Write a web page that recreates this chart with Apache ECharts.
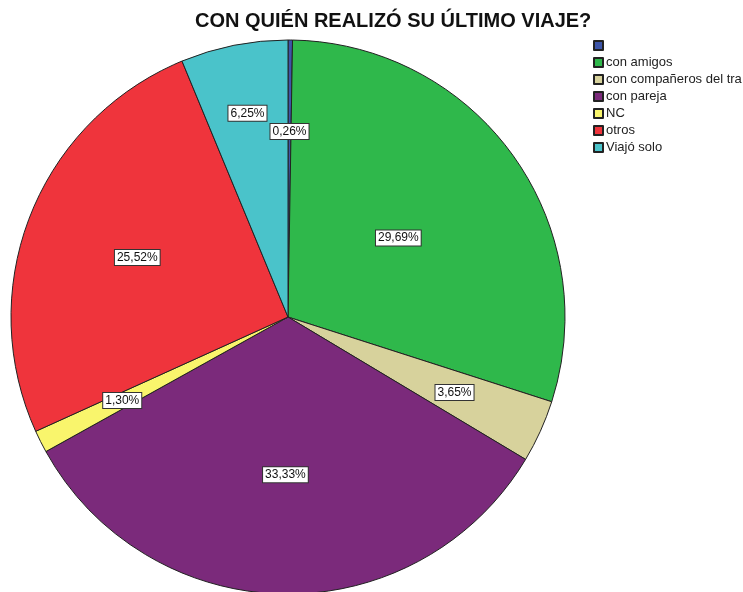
<!DOCTYPE html>
<html>
<head>
<meta charset="utf-8">
<script src="https://cdn.jsdelivr.net/npm/echarts@6/dist/echarts.min.js"></script>
<style>
  html, body { margin: 0; padding: 0; background: #fff; }
  #chart { width: 743px; height: 592px; }
</style>
</head>
<body>
<div id="chart"></div>
<script>
  // categorías y frecuencias (n = 384)
  const categorias = [' ', 'con amigos', 'con compañeros del tra', 'con pareja', 'NC', 'otros', 'Viajó solo'];
  const frecuencias = [1, 114, 14, 128, 5, 98, 24];
  const colores = ['#3d55a8', '#2fb84b', '#d7d29c', '#7b2a7b', '#f9f56c', '#ef343c', '#4ac3ca'];
  // distancia de cada etiqueta al centro (fraccion del radio)
  const distEtiqueta = [0.67, 0.49, 0.66, 0.57, 0.67, 0.585, 0.75];

  const total = frecuencias.reduce((a, b) => a + b, 0);
  const cx = 288, cy = 317, radio = 277;

  // angulo medio de cada sector (desde arriba, horario)
  let acum = 0;
  const angulos = frecuencias.map(function (v) {
    const medio = acum + v / 2;
    acum += v;
    return medio / total * 2 * Math.PI;
  });

  const chart = echarts.init(document.getElementById('chart'));
  const option = {
    animation: false,
    backgroundColor: '#fff',
    title: {
      text: 'CON QUIÉN REALIZÓ SU ÚLTIMO VIAJE?',
      left: 190,
      top: 6,
      textStyle: { fontFamily: 'Liberation Sans', fontSize: 20, fontWeight: 'bold', color: '#111' }
    },
    legend: {
      orient: 'vertical',
      left: 593,
      top: 39,
      padding: 0,
      icon: 'rect',
      itemWidth: 9,
      itemHeight: 9,
      itemGap: 4,
      textStyle: { fontFamily: 'Liberation Sans', fontSize: 13, color: '#222', padding: [0, 0, 0, -2] },
      data: categorias
    },
    series: [{
      type: 'pie',
      center: [cx, cy],
      radius: radio,
      startAngle: 90,
      clockwise: true,
      silent: true,
      itemStyle: { borderColor: '#222', borderWidth: 1 },
      label: {
        show: true,
        position: 'inside',
        fontFamily: 'Liberation Sans',
        fontSize: 12,
        color: '#111',
        backgroundColor: '#fff',
        borderColor: '#333',
        borderWidth: 1,
        padding: [2, 2, 1, 2],
        formatter: function (p) {
          return (p.value / total * 100).toFixed(2).replace('.', ',') + '%';
        }
      },
      labelLine: { show: false },
      labelLayout: function (params) {
        const i = params.dataIndex;
        const d = distEtiqueta[i] * radio;
        return {
          x: cx + d * Math.sin(angulos[i]),
          y: cy - d * Math.cos(angulos[i])
        };
      },
      data: categorias.map(function (c, i) {
        return { name: c, value: frecuencias[i], itemStyle: { color: colores[i] } };
      })
    }]
  };
  chart.setOption(option);
</script>
</body>
</html>
